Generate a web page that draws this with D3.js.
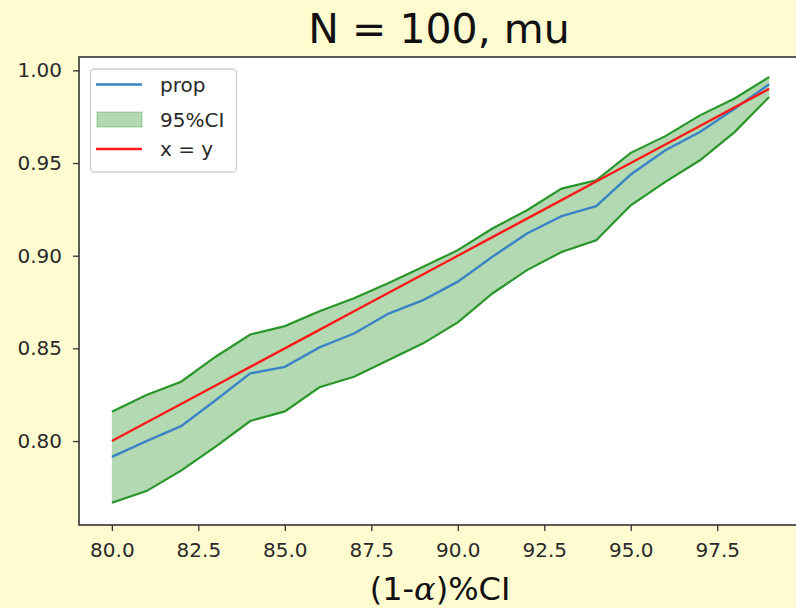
<!DOCTYPE html>
<html><head><meta charset="utf-8">
<script src="https://cdn.jsdelivr.net/npm/d3@7"></script>
<style>
html,body{margin:0;padding:0;background:#fefbd0;}
svg{display:block;font-family:"DejaVu Sans",sans-serif;}
</style></head><body>
<svg id="c" width="796" height="608"></svg>
<script>
const levels = [80,81,82,83,84,85,86,87,88,89,90,91,92,93,94,95,96,97,98,99];
const prop  = [0.7915,0.800,0.808,0.822,0.8365,0.840,0.8505,0.858,0.8688,0.876,0.886,0.8994,0.912,0.9213,0.9267,0.9438,0.9569,0.9667,0.9793,0.9925];
const upper = [0.8158,0.8248,0.832,0.8455,0.8575,0.862,0.870,0.877,0.8853,0.894,0.903,0.9147,0.9245,0.9362,0.9407,0.9555,0.9645,0.9757,0.9848,0.9964];
const lower = [0.7667,0.773,0.784,0.797,0.8108,0.816,0.829,0.8347,0.8437,0.8527,0.864,0.8796,0.8922,0.902,0.9083,0.9272,0.9398,0.9515,0.9667,0.9856];
const identity = levels.map(v => v/100);
const xTicks = [80.0,82.5,85.0,87.5,90.0,92.5,95.0,97.5];
const yTicks = [0.80,0.85,0.90,0.95,1.00];
const legendLabels = ["prop","95%CI","x = y"];

const svg = d3.select("#c");
const L = 79, T = 57, R = 802, B = 525;
const x = d3.scaleLinear().domain([79.05, 99.95]).range([L, R]);
const y = d3.scaleLinear().domain([0.7547, 1.0072]).range([B, T]);

svg.append("rect").attr("x", L).attr("y", T).attr("width", R-L).attr("height", B-T).attr("fill", "#fff");

const area = d3.area().x((d,i)=>x(levels[i])).y0((d,i)=>y(lower[i])).y1((d,i)=>y(upper[i]));
svg.append("path").datum(levels).attr("d", area).attr("fill", "rgba(0,128,0,0.3)");
const line = arr => d3.line().x((d,i)=>x(levels[i])).y((d,i)=>y(arr[i]))(arr);
svg.append("path").attr("d", line(lower)).attr("fill","none").attr("stroke","#2a952a").attr("stroke-width",2.2);
svg.append("path").attr("d", line(upper)).attr("fill","none").attr("stroke","#2a952a").attr("stroke-width",2.2);
svg.append("path").attr("d", line(prop)).attr("fill","none").attr("stroke","#3a83c4").attr("stroke-width",2.4);
svg.append("path").attr("d", line(identity)).attr("fill","none").attr("stroke","#ff1a1a").attr("stroke-width",2.4);

svg.append("rect").attr("x", L).attr("y", T).attr("width", R-L).attr("height", B-T)
  .attr("fill","none").attr("stroke","#333").attr("stroke-width",1.6);

const yAxis = svg.append("g").attr("transform", `translate(${L},0)`)
  .call(d3.axisLeft(y).tickValues(yTicks).tickFormat(d3.format(".2f")).tickSize(6).tickPadding(11));
const xAxis = svg.append("g").attr("transform", `translate(0,${B})`)
  .call(d3.axisBottom(x).tickValues(xTicks).tickFormat(d3.format(".1f")).tickSize(6));
[yAxis, xAxis].forEach(g => {
  g.select(".domain").remove();
  g.selectAll("line").attr("stroke","#333").attr("stroke-width",1.3);
  g.selectAll("text").attr("font-size",20).attr("fill","#2a2a2a").attr("font-family","DejaVu Sans");
});
xAxis.selectAll("text").attr("y", 32).attr("dy", 0);

svg.append("text").attr("x", 439).attr("y", 43).attr("text-anchor","middle")
  .attr("font-size", 41).attr("fill","#111").text("N = 100, mu");
const xl = svg.append("text").attr("x", 440).attr("y", 600).attr("text-anchor","middle")
  .attr("font-size", 32).attr("fill","#111");
xl.append("tspan").text("(1-");
xl.append("tspan").attr("font-style","italic").attr("font-family","DejaVu Serif").text("α");
xl.append("tspan").text(")%CI");

// legend
const lg = svg.append("g");
lg.append("rect").attr("x", 90.5).attr("y", 69).attr("width", 146).attr("height", 103).attr("rx", 4)
  .attr("fill","#fff").attr("stroke","#d0d0d0").attr("stroke-width",1.3);
const rows = [84.5, 119.5, 149];
lg.append("line").attr("x1",96).attr("x2",142).attr("y1",rows[0]).attr("y2",rows[0]).attr("stroke","#3a83c4").attr("stroke-width",2.4);
lg.append("rect").attr("x",97).attr("y",112).attr("width",45).attr("height",15).attr("fill","rgba(0,128,0,0.3)").attr("stroke","rgba(0,128,0,0.3)");
lg.append("line").attr("x1",96).attr("x2",142).attr("y1",rows[2]).attr("y2",rows[2]).attr("stroke","#ff1a1a").attr("stroke-width",2.4);
legendLabels.forEach((t,i) => {
  lg.append("text").attr("x",160).attr("y",rows[i]).attr("dy","0.36em").attr("font-size",20).attr("fill","#2a2a2a").text(t);
});
</script>
</body></html>
